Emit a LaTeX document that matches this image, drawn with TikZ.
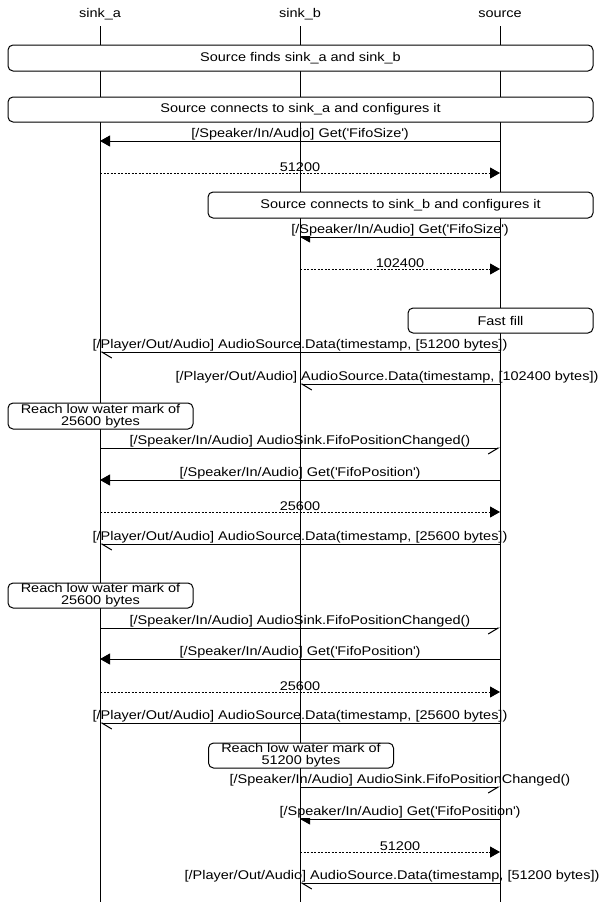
\documentclass[tikz,border=0pt]{standalone}
\usepackage{fontspec}
\setmainfont{Liberation Sans}[FakeStretch=1.15]
\usetikzlibrary{arrows.meta}

\newcommand{\msgfont}{\fontsize{12.6}{12}\selectfont}
\newcommand{\q}{\textquotesingle}

\tikzset{
    head/.style = {font=\msgfont, inner sep=0pt},
    life/.style = {line width=1pt},
    note/.style = {draw, fill=white, line width=1pt, rounded corners=5pt,
                   align=center, font=\msgfont, inner sep=0pt},
    call/.style = {line width=1pt, -{Triangle[length=10pt,width=11pt]}},
    back/.style = {call, dash pattern=on 2pt off 1.5pt},
    sigL/.style = {line width=1pt, -{Straight Barb[harpoon,length=10pt,width=12pt]}},
    sigR/.style = {line width=1pt, -{Straight Barb[harpoon,swap,length=10pt,width=12pt]}},
    lbl/.style  = {midway, above, yshift=0.5pt, fill=white, inner sep=0pt, font=\msgfont},
}

\begin{document}
\begin{tikzpicture}[x=1pt, y=-1pt]
    \useasboundingbox (0,0) rectangle (600,902);

    % entities
    \node[head] (sa)  at (100,14) {sink\_a};
    \node[head] (sb)  at (300,14) {sink\_b};
    \node[head] (src) at (500,14) {source};

    % configuration
    \draw[call] (src |- 0,141) -- node[lbl] {[/Speaker/In/Audio] Get(\q FifoSize\q)} (sa |- 0,141);
    \draw[back] (sa |- 0,173) -- node[lbl] {51200} (src |- 0,173);
    \draw[call] (src |- 0,237) -- node[lbl] {[/Speaker/In/Audio] Get(\q FifoSize\q)} (sb |- 0,237);
    \draw[back] (sb |- 0,269) -- node[lbl] {102400} (src |- 0,269);

    % fast fill
    \draw[sigL] (src |- 0,352) -- node[lbl] {[/Player/Out/Audio] AudioSource.Data(timestamp, [51200 bytes])} (sa |- 0,352);
    \draw[sigL] (src |- 0,384) -- node[lbl, xshift=-13pt] {[/Player/Out/Audio] AudioSource.Data(timestamp, [102400 bytes])} (sb |- 0,384);

    % sink_a refills
    \draw[sigR] (sa |- 0,448) -- node[lbl] {[/Speaker/In/Audio] AudioSink.FifoPositionChanged()} (src |- 0,448);
    \draw[call] (src |- 0,480) -- node[lbl] {[/Speaker/In/Audio] Get(\q FifoPosition\q)} (sa |- 0,480);
    \draw[back] (sa |- 0,512) -- node[lbl] {25600} (src |- 0,512);
    \draw[sigL] (src |- 0,544) -- node[lbl] {[/Player/Out/Audio] AudioSource.Data(timestamp, [25600 bytes])} (sa |- 0,544);

    \draw[sigR] (sa |- 0,628) -- node[lbl] {[/Speaker/In/Audio] AudioSink.FifoPositionChanged()} (src |- 0,628);
    \draw[call] (src |- 0,659) -- node[lbl] {[/Speaker/In/Audio] Get(\q FifoPosition\q)} (sa |- 0,659);
    \draw[back] (sa |- 0,692) -- node[lbl] {25600} (src |- 0,692);
    \draw[sigL] (src |- 0,723) -- node[lbl] {[/Player/Out/Audio] AudioSource.Data(timestamp, [25600 bytes])} (sa |- 0,723);

    % sink_b refills
    \draw[sigR] (sb |- 0,787) -- node[lbl] {[/Speaker/In/Audio] AudioSink.FifoPositionChanged()} (src |- 0,787);
    \draw[call] (src |- 0,819) -- node[lbl] {[/Speaker/In/Audio] Get(\q FifoPosition\q)} (sb |- 0,819);
    \draw[back] (sb |- 0,852) -- node[lbl] {51200} (src |- 0,852);
    \draw[sigL] (src |- 0,883) -- node[lbl, xshift=-8pt] {[/Player/Out/Audio] AudioSource.Data(timestamp, [51200 bytes])} (sb |- 0,883);

    % lifelines
    \foreach \e in {sa,sb,src}
        \draw[life] (\e |- 0,26) -- (\e |- 0,902);

    % boxes
    \node[note, minimum width=585pt, minimum height=26pt] (find)  at (300.5,58)    {Source finds sink\_a and sink\_b};
    \node[note, minimum width=585pt, minimum height=25pt] (conA)  at (300.5,109.5) {Source connects to sink\_a and configures it};
    \node[note, minimum width=385pt, minimum height=26pt] (conB)  at (400.5,205)   {Source connects to sink\_b and configures it};
    \node[note, minimum width=185pt, minimum height=25pt] (fill)  at (500.5,320.5) {Fast fill};
    \node[note, minimum width=185pt, minimum height=26pt] (lowA)  at (100.5,416)   {Reach low water mark of\\25600 bytes};
    \node[note, minimum width=185pt, minimum height=25pt] (lowA2) at (100.5,595.5) {Reach low water mark of\\25600 bytes};
    \node[note, minimum width=185pt, minimum height=25pt] (lowB)  at (301,755.5)   {Reach low water mark of\\51200 bytes};
\end{tikzpicture}
\end{document}
